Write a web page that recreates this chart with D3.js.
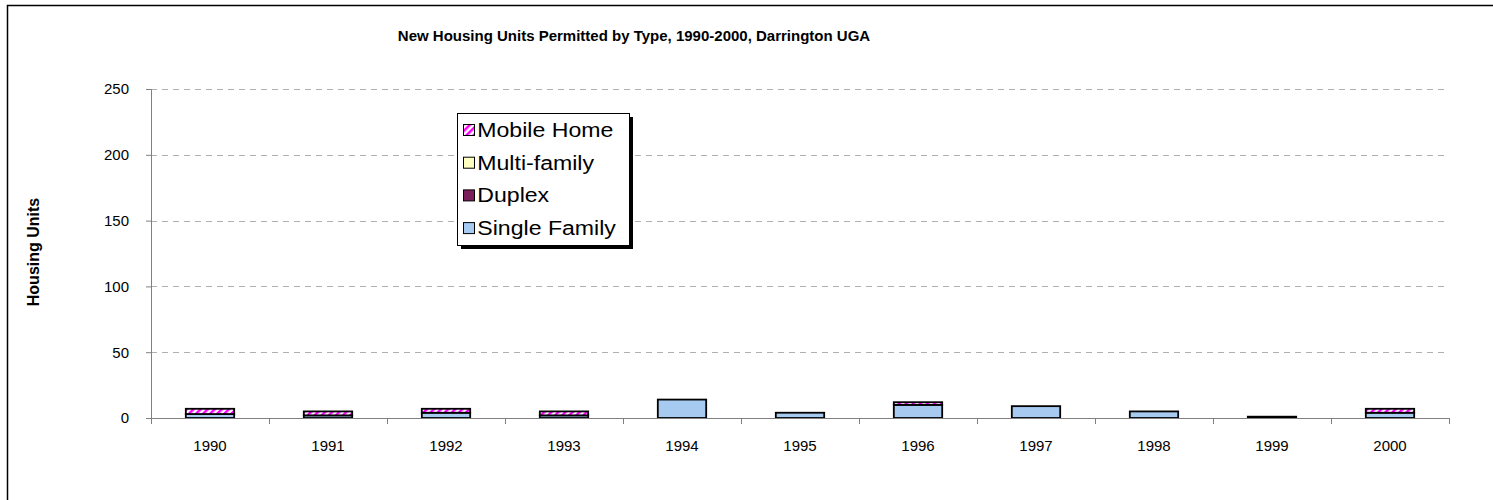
<!DOCTYPE html>
<html lang="en">
<head>
<meta charset="utf-8">
<title>New Housing Units Permitted by Type</title>
<script src="https://d3js.org/d3.v7.min.js"></script>
<style>
  body { margin: 0; background: #fff; font-family: "Liberation Sans", Arial, sans-serif; }
</style>
</head>
<body>
<script>
var w = 1493, h = 500;

// data
var years = ["1990","1991","1992","1993","1994","1995","1996","1997","1998","1999","2000"];
var singleFamily = [3, 2, 4, 2, 14, 4, 10, 9, 5, 0, 4];
var duplex       = [0, 0, 0, 0, 0, 0, 0, 0, 0, 0, 0];
var multiFamily  = [0, 0, 0, 0, 0, 0, 0, 0, 0, 0, 0];
var mobileHome   = [4, 3, 3, 3, 0, 0, 2, 0, 0, 1, 3];
var yTicks = [0, 50, 100, 150, 200, 250];

var seriesNames = ["Single Family", "Duplex", "Multi-family", "Mobile Home"];
var seriesFill = {
  "Single Family": "#a6caf0",
  "Duplex": "#7b1f5b",
  "Multi-family": "#ffffc0",
  "Mobile Home": "url(#mhPattern)"
};

var rows = years.map(function(y, i) {
  return { year: y, "Single Family": singleFamily[i], "Duplex": duplex[i],
           "Multi-family": multiFamily[i], "Mobile Home": mobileHome[i] };
});

var plotLeft = 151, plotRight = 1449, plotTop = 89, plotBottom = 418;

var svg = d3.select("body").append("svg").attr("width", w).attr("height", h);

var defs = svg.append("defs");
var pat = defs.append("pattern")
  .attr("id", "mhPattern")
  .attr("patternUnits", "userSpaceOnUse")
  .attr("width", 5).attr("height", 5)
  .attr("patternTransform", "rotate(45)");
pat.append("rect").attr("width", 5).attr("height", 5).attr("fill", "#fff");
pat.append("rect").attr("width", 2.5).attr("height", 5).attr("fill", "#ff00ff");

// outer chart border
svg.append("rect")
  .attr("x", 7.5).attr("y", 5.5)
  .attr("width", w + 20).attr("height", h + 20)
  .attr("fill", "none").attr("stroke", "#000").attr("stroke-width", 1.5);

var xScale = d3.scaleBand().domain(years).range([plotLeft, plotRight]).paddingInner(0.59).paddingOuter(0.295);
var xBand = d3.scaleBand().domain(years).range([plotLeft, plotRight]);
var yScale = d3.scaleLinear().domain([0, 250]).range([plotBottom, plotTop]);

// gridlines
svg.append("g")
  .selectAll("line")
  .data(yTicks.filter(function(d) { return d > 0; }))
  .enter().append("line")
  .attr("x1", plotLeft).attr("x2", plotRight)
  .attr("y1", function(d) { return Math.round(yScale(d)) + 0.5; })
  .attr("y2", function(d) { return Math.round(yScale(d)) + 0.5; })
  .attr("stroke", "#b0b0b0").attr("stroke-dasharray", "6,5");

// stacked bars
var stack = d3.stack().keys(seriesNames);
var layers = stack(rows);

svg.append("g")
  .selectAll("g")
  .data(layers)
  .enter().append("g")
  .attr("fill", function(d) { return seriesFill[d.key]; })
  .selectAll("rect")
  .data(function(d) { return d.filter(function(p) { return p[1] > p[0]; }); })
  .enter().append("rect")
  .attr("x", function(d) { return xScale(d.data.year); })
  .attr("width", xScale.bandwidth())
  .attr("y", function(d) { return yScale(d[1]); })
  .attr("height", function(d) { return yScale(d[0]) - yScale(d[1]); })
  .attr("stroke", "#000").attr("stroke-width", 1.8);

// axes
var yAxis = d3.axisLeft(yScale).tickValues(yTicks).tickSize(5).tickPadding(17);
var gy = svg.append("g").attr("transform", "translate(" + plotLeft + ",0)").call(yAxis);
gy.select(".domain").attr("stroke", "#808080");
gy.selectAll(".tick line").attr("stroke", "#808080");
gy.selectAll("text").style("font-size", "15px").style("font-family", "Liberation Sans, Arial, sans-serif").attr("fill", "#000");

var xAxis = svg.append("g").attr("transform", "translate(0," + plotBottom + ")");
xAxis.append("line").attr("x1", plotLeft).attr("x2", plotRight).attr("y1", 0.5).attr("y2", 0.5).attr("stroke", "#808080");
xAxis.selectAll(".xt")
  .data(years.concat(["end"]))
  .enter().append("line")
  .attr("x1", function(d, i) { return i < years.length ? xBand(d) + 0.5 : plotRight + 0.5; })
  .attr("x2", function(d, i) { return i < years.length ? xBand(d) + 0.5 : plotRight + 0.5; })
  .attr("y1", 0).attr("y2", 6).attr("stroke", "#808080");
xAxis.selectAll("text")
  .data(years)
  .enter().append("text")
  .attr("x", function(d) { return xBand(d) + xBand.bandwidth() / 2; })
  .attr("y", 33)
  .attr("text-anchor", "middle")
  .style("font-size", "15px")
  .text(function(d) { return d; });

// titles
svg.append("text")
  .attr("x", 634).attr("y", 41)
  .attr("text-anchor", "middle")
  .style("font-size", "15px").style("font-weight", "bold")
  .text("New Housing Units Permitted by Type, 1990-2000, Darrington UGA");

svg.append("text")
  .attr("transform", "translate(39," + 252 + ") rotate(-90)")
  .attr("text-anchor", "middle")
  .style("font-size", "16px").style("font-weight", "bold")
  .text("Housing Units");

// legend
var lg = svg.append("g").attr("transform", "translate(457,113)");
lg.append("rect").attr("x", 4).attr("y", 4).attr("width", 172).attr("height", 132).attr("fill", "#000");
lg.append("rect").attr("x", 0.5).attr("y", 0.5).attr("width", 172).attr("height", 132)
  .attr("fill", "#fff").attr("stroke", "#000");

var legendItems = seriesNames.slice().reverse();
var li = lg.selectAll(".li").data(legendItems).enter().append("g")
  .attr("transform", function(d, i) { return "translate(6," + (17 + i * 32.7) + ")"; });
li.append("rect").attr("x", 0.5).attr("y", -5.5).attr("width", 11).attr("height", 11)
  .attr("fill", function(d) { return seriesFill[d]; })
  .attr("stroke", "#000").attr("stroke-width", 1);
li.append("text").attr("x", 13).attr("y", 7)
  .style("font-size", "21px")
  .attr("transform", "scale(1.1,1)")
  .text(function(d) { return d; });
</script>
</body>
</html>
